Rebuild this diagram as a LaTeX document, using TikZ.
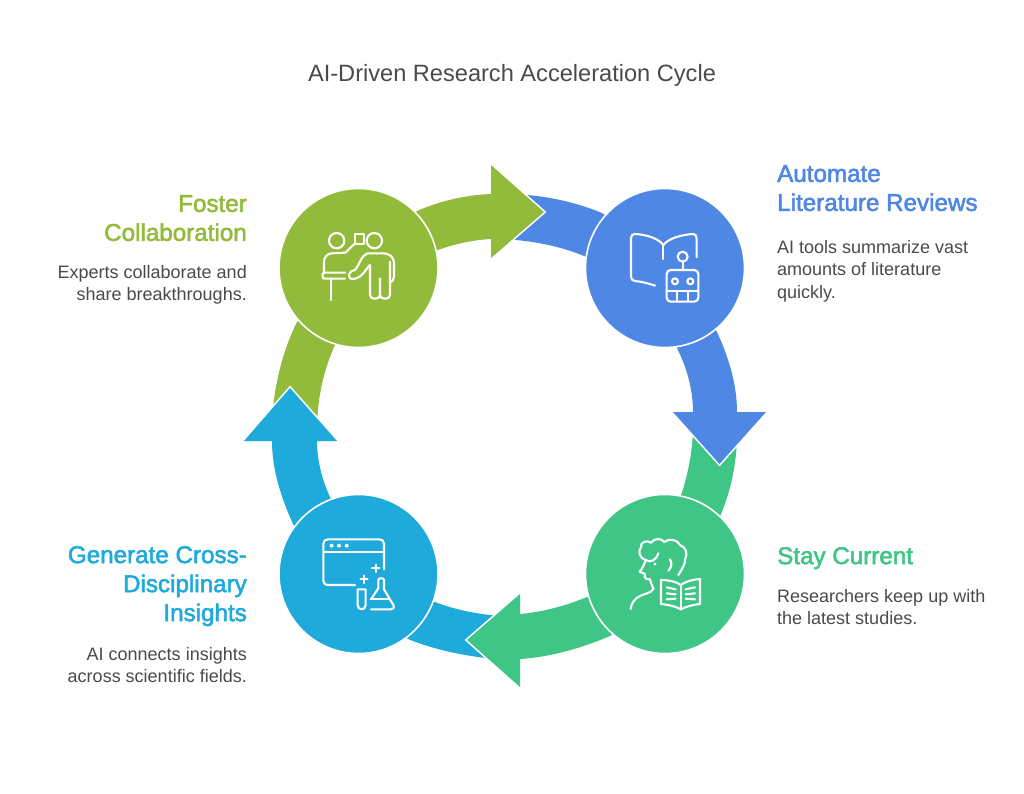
\documentclass[tikz,border=0pt]{standalone}
\usepackage{fontspec}
\setmainfont{Liberation Sans}
\newfontfamily\headfont[FakeBold=2.2]{Liberation Sans}
\definecolor{cgreen}{HTML}{93BB3B}
\definecolor{cblue}{HTML}{4F87E5}
\definecolor{cteal}{HTML}{3FC585}
\definecolor{ccyan}{HTML}{1FAADC}
\definecolor{ctext}{HTML}{4A4A4A}
\tikzset{
  disc/.style={circle,minimum size=159pt,inner sep=0pt,outer sep=0pt,draw=white,line width=1.6pt},
  headtext/.style={inner sep=0pt,font=\headfont\fontsize{24.2}{29}\selectfont},
  bodytext/.style={inner sep=0pt,text=ctext,font=\fontsize{18}{22.5}\selectfont},
  tipedge/.style={draw=white,line width=3.2pt,miter limit=10,fill=none},
  ico/.style={draw=white,line width=2.1pt,line cap=round,line join=round,fill=none},
  icosc/.style={x=0.3333pt,y=-0.3333pt}
}
\begin{document}
\begin{tikzpicture}[x=1pt,y=-1pt]
\useasboundingbox (0,0) rectangle (1024,794);
\fill[white] (0,0) rectangle (1024,794);
% green band pieces
\fill[cgreen] (400,220) -- (417,211) .. controls (440,201) and (465,195) .. (491,194) -- (491,239) .. controls (472,240) and (455,244) .. (438,250) -- (420,258) -- cycle;
\fill[cgreen] (310,300) -- (297,322) .. controls (283,350) and (274,385) .. (272,420) -- (317,425) .. controls (318,395) and (324,370) .. (334,347) -- (345,330) -- cycle;
% blue band pieces
\fill[cblue] (510,194) .. controls (545,195) and (575,202) .. (602,213) -- (620,225) -- (600,262) -- (584,256) .. controls (560,246) and (530,240) .. (500,239) -- cycle;
\fill[cblue] (705,310) -- (717,332) .. controls (729,358) and (737,385) .. (737,412) -- (693,412) .. controls (693,390) and (687,368) .. (677,348) -- (668,330) -- cycle;
% teal band pieces
\fill[cteal] (737,425) .. controls (738,460) and (731,490) .. (721,514) -- (712,535) -- (676,515) -- (681,495) .. controls (688,475) and (693,450) .. (693,425) -- cycle;
\fill[cteal] (610,585) -- (587,597) .. controls (565,606) and (543,612) .. (520,614) -- (520,659) .. controls (551,657) and (582,648) .. (610,636) -- (625,628) -- cycle;
% cyan band pieces
\fill[ccyan] (510,617) .. controls (483,615) and (458,611) .. (435,602) -- (420,595) -- (395,630) -- (408,639) .. controls (440,652) and (475,658) .. (510,660) -- cycle;
\fill[ccyan] (305,545) -- (293,524) .. controls (281,497) and (272,470) .. (272,441) -- (317,441) .. controls (317,460) and (322,480) .. (330,497) -- (340,515) -- cycle;
% arrow heads
\draw[tipedge] (491,165) -- (544,212) -- (491,258);
\fill[cgreen] (491,165) -- (544,212) -- (491,258) -- cycle;
\draw[tipedge] (673,412) -- (719.5,464) -- (766,412);
\fill[cblue] (673,412) -- (719.5,464) -- (766,412) -- cycle;
\draw[tipedge] (520,594) -- (467,640) -- (520,687);
\fill[cteal] (520,594) -- (467,640) -- (520,687) -- cycle;
\draw[tipedge] (244,441) -- (290,388) -- (337,441);
\fill[ccyan] (244,441) -- (290,388) -- (337,441) -- cycle;
% discs
\node[disc,fill=cgreen] (collab) at (358.5,268) {};
\node[disc,fill=cblue] (auto) at (665,268) {};
\node[disc,fill=cteal] (stay) at (665,574) {};
\node[disc,fill=ccyan] (gen) at (358.5,574) {};
% icon: collaboration
\begin{scope}[xshift=310pt,yshift=-220pt,icosc]
\draw[ico] (80,62) circle[radius=23];
\draw[ico] (193,62) circle[radius=23];
\draw[ico] (135,42) -- (163,42) -- (163,72) -- (135,72) -- cycle;
\draw[ico] (133,72) -- (106,98) -- (66,100) .. controls (50,101) and (42,112) .. (42,128) -- (42,157);
\draw[ico] (105,158) -- (42,158) .. controls (36,158) and (36,176) .. (42,176) -- (105,176);
\draw[ico] (62,176) -- (62,240);
\draw[ico] (218,100) -- (172,100) .. controls (155,105) and (148,135) .. (135,150) .. controls (120,152) and (112,165) .. (120,175) .. controls (130,182) and (150,172) .. (160,160) -- (178,136);
\draw[ico] (180,135) -- (180,225) .. controls (180,240) and (210,240) .. (210,225) -- (210,175);
\draw[ico] (210,225) .. controls (210,240) and (240,240) .. (240,225) -- (240,125);
\draw[ico] (218,100) .. controls (240,100) and (252,112) .. (252,130) -- (252,170) .. controls (252,180) and (246,185) .. (240,188);
\end{scope}
% icon: book and robot
\begin{scope}[xshift=615pt,yshift=-220pt,icosc]
\draw[ico] (120,197) .. controls (100,190) and (80,185) .. (60,183) .. controls (52,182) and (48,178) .. (48,170) -- (48,55) .. controls (48,46) and (52,42) .. (60,42) .. controls (95,44) and (130,55) .. (145,75) .. controls (160,55) and (200,44) .. (235,42) .. controls (242,42) and (245,48) .. (245,55) -- (245,112);
\draw[ico] (145,75) -- (145,117);
\draw[ico] (203,110) circle[radius=15];
\draw[ico] (203,125) -- (203,150);
\draw[ico,rounded corners=4pt] (155,150) rectangle (250,245);
\draw[ico] (180,184) circle[radius=9];
\draw[ico] (226,184) circle[radius=9];
\draw[ico] (155,212) -- (250,212);
\draw[ico] (187,212) -- (187,245);
\draw[ico] (218,212) -- (218,245);
\end{scope}
% icon: reader
\begin{scope}[xshift=615pt,yshift=-530pt,icosc]
\draw[ico] (138,150) .. controls (160,150) and (185,155) .. (197,165) .. controls (210,155) and (235,148) .. (255,147) -- (255,222) .. controls (235,224) and (212,230) .. (197,238) .. controls (185,230) and (160,224) .. (138,222) -- cycle;
\draw[ico] (197,165) -- (197,238);
\draw[ico] (155,172) -- (182,178);
\draw[ico] (155,190) -- (182,193);
\draw[ico] (155,208) -- (182,206);
\draw[ico] (212,178) -- (240,172);
\draw[ico] (212,193) -- (240,190);
\draw[ico] (212,206) -- (240,208);
\draw[ico] (92,90) .. controls (72,84) and (68,62) .. (78,52) .. controls (74,38) and (95,28) .. (108,38) .. controls (118,24) and (140,24) .. (148,36) .. controls (160,24) and (188,28) .. (196,46) .. controls (212,50) and (220,72) .. (210,88) .. controls (212,102) and (200,118) .. (190,135);
\draw[ico] (92,90) .. controls (105,100) and (125,90) .. (130,70);
\draw[ico] (92,90) .. controls (88,105) and (82,115) .. (74,125) -- (90,132) .. controls (88,140) and (88,145) .. (95,147) -- (105,148) .. controls (108,160) and (112,170) .. (116,176) .. controls (108,190) and (90,190) .. (75,198) .. controls (60,205) and (48,220) .. (47,237);
\fill[white] (120,102) circle[radius=5];
\draw[ico] (165,88) .. controls (172,100) and (170,112) .. (160,122);
\end{scope}
% icon: window and lab glass
\begin{scope}[xshift=310pt,yshift=-530pt,icosc]
\draw[ico] (222,118) -- (222,42) .. controls (222,33) and (217,28) .. (208,28) -- (54,28) .. controls (45,28) and (40,33) .. (40,42) -- (40,148) .. controls (40,160) and (45,165) .. (56,165) -- (135,165);
\draw[ico] (40,65) -- (222,65);
\fill[white] (65,47) circle[radius=6] (87,47) circle[radius=6] (110,47) circle[radius=6];
\draw[ico] (186,115) -- (208,115) (197,104) -- (197,126);
\draw[ico] (151,148) -- (173,148) (162,137) -- (162,159);
\draw[ico] (143,178) -- (167,178) -- (167,225) .. controls (167,242) and (143,242) .. (143,225) -- cycle;
\draw[ico] (183,208) -- (205,175) -- (205,150) .. controls (205,143) and (222,143) .. (222,150) -- (222,178) -- (250,225) .. controls (254,233) and (250,238) .. (242,238) -- (183,238);
\draw[ico] (183,208) -- (235,208);
\end{scope}
% texts
\node[inner sep=0pt,text=ctext,font=\fontsize{23.6}{28}\selectfont] (title) at (512,75) {AI-Driven Research Acceleration Cycle};
\node[headtext,text=cblue,anchor=north west,align=left] (h1) at (777,165) {Automate\\Literature Reviews};
\node[bodytext,anchor=north west,align=left] (b1) at (777,240) {AI tools summarize vast\\amounts of literature\\quickly.};
\node[headtext,text=cteal,anchor=north west,align=left] (h2) at (777,547) {Stay Current};
\node[bodytext,anchor=north west,align=left] (b2) at (777,589) {Researchers keep up with\\the latest studies.};
\node[headtext,text=ccyan,anchor=north east,align=right] (h3) at (247,546) {Generate Cross-\\Disciplinary\\Insights};
\node[bodytext,anchor=north east,align=right] (b3) at (247,647) {AI connects insights\\across scientific fields.};
\node[headtext,text=cgreen,anchor=north east,align=right] (h4) at (247,195) {Foster\\Collaboration};
\node[bodytext,anchor=north east,align=right] (b4) at (247,265) {Experts collaborate and\\share breakthroughs.};
\end{tikzpicture}
\end{document}
